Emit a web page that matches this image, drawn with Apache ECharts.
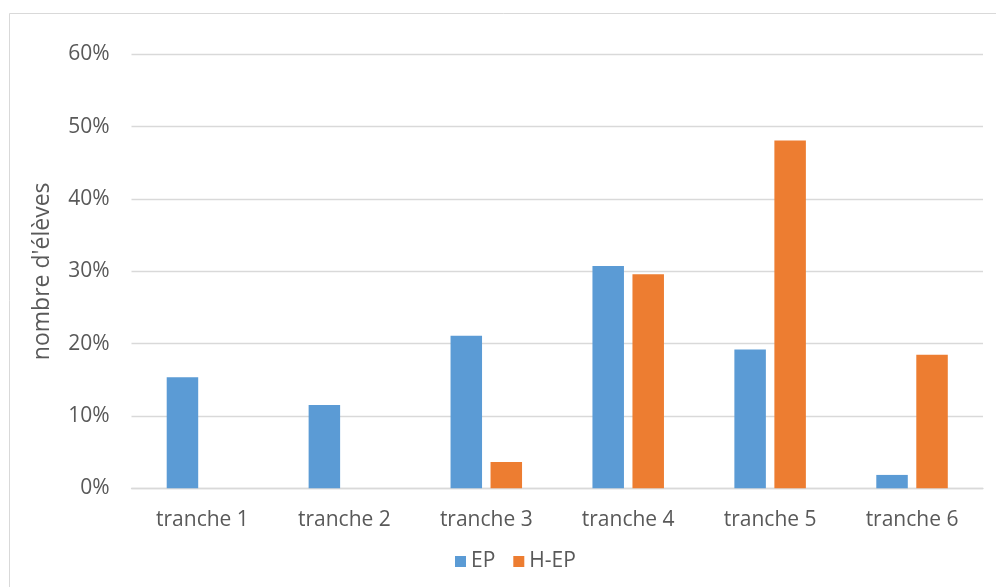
<!DOCTYPE html>
<html>
<head>
<meta charset="utf-8">
<script src="https://cdn.jsdelivr.net/npm/echarts@6/dist/echarts.min.js"></script>
<style>
html,body{margin:0;padding:0;background:#fff;}
#chart{width:996px;height:587px;}
</style>
</head>
<body>
<div id="chart"></div>
<script>
var categories = ["tranche 1", "tranche 2", "tranche 3", "tranche 4", "tranche 5", "tranche 6"];
var epValues = [15.35, 11.5, 21.1, 30.75, 19.2, 1.85];
var hepValues = [0, 0, 3.65, 29.6, 48.1, 18.45];
var seriesNames = ["EP", "H-EP"];
var yAxisTitle = "nombre d'élèves";

var FONT = "Open Sans";
var chart = echarts.init(document.getElementById('chart'), null, {renderer: 'canvas'});
chart.setOption({
  animation: false,
  backgroundColor: '#ffffff',
  textStyle: {fontFamily: FONT},
  graphic: [{
    type: 'rect',
    shape: {x: 9.5, y: 13.5, width: 1000, height: 600},
    style: {fill: 'none', stroke: '#D9D9D9', lineWidth: 1},
    silent: true, z: -10
  }],
  grid: {left: 131.5, right: 13, top: 54.3, bottom: 98.7, containLabel: false},
  legend: {
    data: seriesNames,
    left: 450, top: 546,
    icon: 'rect', itemWidth: 11, itemHeight: 11, itemGap: 18,
    textStyle: {fontFamily: FONT, fontSize: 21, color: '#595959'}
  },
  xAxis: {
    type: 'category',
    data: categories,
    boundaryGap: true,
    axisLine: {lineStyle: {color: '#D9D9D9', width: 1.3}},
    axisTick: {show: false},
    axisLabel: {fontFamily: FONT, fontSize: 21, color: '#595959', margin: 21}
  },
  yAxis: {
    type: 'value',
    min: 0, max: 60, interval: 10,
    name: yAxisTitle,
    nameLocation: 'middle',
    nameRotate: 90,
    nameGap: 78,
    nameTextStyle: {fontFamily: FONT, fontSize: 23, color: '#595959'},
    axisLine: {show: false},
    axisTick: {show: false},
    axisLabel: {fontFamily: FONT, fontSize: 21, color: '#595959', margin: 22, formatter: '{value}%'},
    splitLine: {lineStyle: {color: '#D9D9D9', width: 1.3}}
  },
  series: [
    {name: seriesNames[0], type: 'bar', data: epValues, barWidth: 31.5, barGap: '27%',
     itemStyle: {color: '#5B9BD5'}},
    {name: seriesNames[1], type: 'bar', data: hepValues, barWidth: 31.5, barGap: '27%',
     itemStyle: {color: '#ED7D31'}}
  ]
});
</script>
</body>
</html>
